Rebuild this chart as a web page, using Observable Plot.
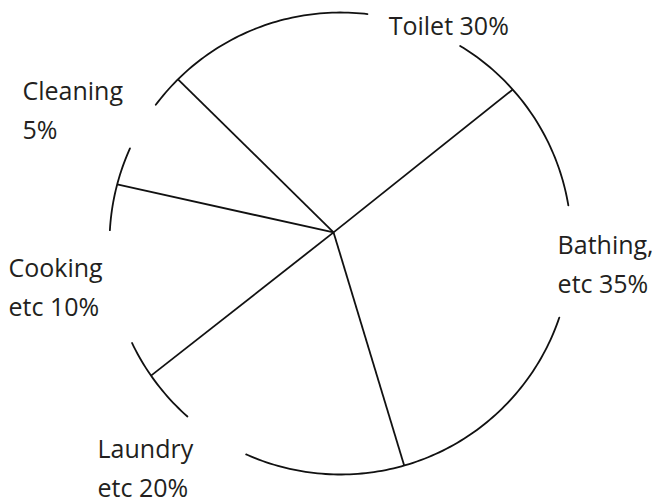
<!DOCTYPE html>
<html><head><meta charset="utf-8">
<script src="https://cdn.jsdelivr.net/npm/d3@7"></script>
<script src="https://cdn.jsdelivr.net/npm/@observablehq/plot@0.6"></script>
<style>html,body{margin:0;padding:0;background:#fff}</style>
</head><body><div id="chart"></div>
<script>
// ---- data ----
const categories = ["Toilet", "Bathing", "Laundry", "Cooking", "Cleaning"];
const labelTexts = ["Toilet 30%", "Bathing,\netc 35%", "Laundry\netc 20%", "Cooking\netc 10%", "Cleaning\n5%"];
const percents = [30, 35, 20, 10, 5];
// angular size of each slice as actually drawn in the (hand-made) reference, degrees
const drawnDegrees = [92.9, 115.8, 71.1, 49.7, 30.5];

// ---- layout (not data) ----
const W = 654, H = 504, R = 231, CX = 340, CY = 243;
const startDeg = 315.3; // first slice (Toilet) starts here, clockwise from 12 o'clock
const hub = {x: -0.030, y: 0.048}; // spokes meet slightly off the circle's centre in the drawing
const outlineSegments = [[306.9, 366.7], [31.2, 80.5], [108.7, 204.1], [221.5, 244.5], [273.3, 294.3]];
const labelPolar = [[12.3, 0.979], [94.7, 0.943], [227.7, 1.422], [263.0, 1.448], [293.3, 1.499]];

const rad = d => d * Math.PI / 180;
const start = rad(startDeg);
const arcs = d3.pie().sort(null).value(d => d).startAngle(start).endAngle(start + 2 * Math.PI)(drawnDegrees);

const spokes = arcs.map((a, i) => ({cat: categories[i], x: Math.sin(a.startAngle), y: Math.cos(a.startAngle)}));

const outline = [];
outlineSegments.forEach(([s, e], i) => {
  for (let a = s; a < e; a += 1) outline.push({seg: i, x: Math.sin(rad(a)), y: Math.cos(rad(a))});
  outline.push({seg: i, x: Math.sin(rad(e)), y: Math.cos(rad(e))});
});

const labels = categories.map((c, i) => ({
  cat: c, pct: percents[i], text: labelTexts[i],
  x: labelPolar[i][1] * Math.sin(rad(labelPolar[i][0])),
  y: labelPolar[i][1] * Math.cos(rad(labelPolar[i][0]))
}));

const chart = Plot.plot({
  width: W, height: H,
  margin: 0,
  x: {domain: [-CX / R, (W - CX) / R], axis: null},
  y: {domain: [-(H - CY) / R, CY / R], axis: null},
  style: {background: "white", fontFamily: "'Open Sans', sans-serif"},
  marks: [
    Plot.line(outline, {x: "x", y: "y", z: "seg", stroke: "#111", strokeWidth: 1.8}),
    Plot.link(spokes, {x1: () => hub.x, y1: () => hub.y, x2: "x", y2: "y", stroke: "#111", strokeWidth: 1.8}),
    Plot.text(labels, {x: "x", y: "y", text: "text", textAnchor: "start", lineAnchor: "middle",
      fontSize: 25, lineHeight: 1.56, fontFamily: "'Open Sans', sans-serif", fill: "#231f20"})
  ]
});
document.getElementById("chart").appendChild(chart);
</script>
</body></html>
